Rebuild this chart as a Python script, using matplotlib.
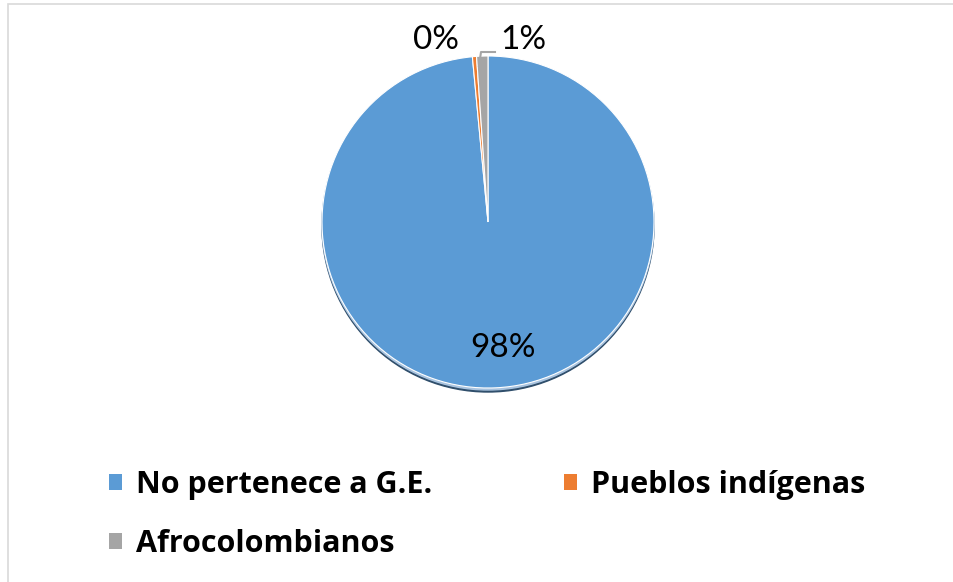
import matplotlib.pyplot as plt
from matplotlib.patches import Circle, Rectangle, Patch

categories = ['No pertenece a G.E.', 'Pueblos indígenas', 'Afrocolombianos']
values = [98.5, 0.4, 1.1]
colors = ['#5B9BD5', '#ED7D31', '#A5A5A5']

plt.rcParams['font.family'] = ['Lato', 'DejaVu Sans']

fig = plt.figure(figsize=(9.54, 5.82), dpi=100)
ax = fig.add_axes([0, 0, 1, 1])
ax.set_xlim(0, 954)
ax.set_ylim(0, 582)
ax.set_aspect('equal')
ax.axis('off')

# chart frame (only left/top visible)
ax.add_patch(Rectangle((8, -10), 960, 588, fill=False, edgecolor='#D9D9D9', lw=1.2))

cx, cy, r = 488, 360, 166

# 3D-ish shadow under the pie
ax.add_patch(Circle((cx, cy - 4), r, color='#2F4E6B', zorder=1))
ax.add_patch(Circle((cx, cy - 2), r, color='#A9C4E0', zorder=1.5))

wedges, texts, autotexts = ax.pie(
    values, colors=colors, startangle=90, counterclock=False,
    center=(cx, cy), radius=r, frame=True,
    autopct=lambda p: '%d%%' % round(p), pctdistance=0.76,
    wedgeprops=dict(edgecolor='white', linewidth=0.8),
    textprops=dict(fontsize=24, color='black'))
for w in wedges:
    w.set_zorder(2)
ax.set_xlim(0, 954)
ax.set_ylim(0, 582)
ax.axis('off')

autotexts[0].set_position((503, 582 - 348))
autotexts[1].set_position((436, 582 - 40))
autotexts[2].set_position((523, 582 - 40))
for t in autotexts:
    t.set_zorder(5)

# leader line for the small grey slice
ax.plot([479, 481, 495], [582 - 66, 582 - 52, 582 - 52], color='#A5A5A5', lw=1.5, zorder=4)

handles = [Patch(facecolor=c, edgecolor='none') for c in colors]
order = [0, 2, 1]
leg = ax.legend([handles[i] for i in order], [categories[i] for i in order],
                ncol=2, loc='upper left', bbox_to_anchor=(94 / 954, 1 - 455 / 582),
                bbox_transform=fig.transFigure, frameon=False,
                prop=dict(family='Open Sans', weight='bold', size=22),
                handlelength=0.43, handleheight=0.43, handletextpad=0.45,
                columnspacing=4.3, labelspacing=0.95, borderpad=0)

fig.savefig('out.png', dpi=100)
